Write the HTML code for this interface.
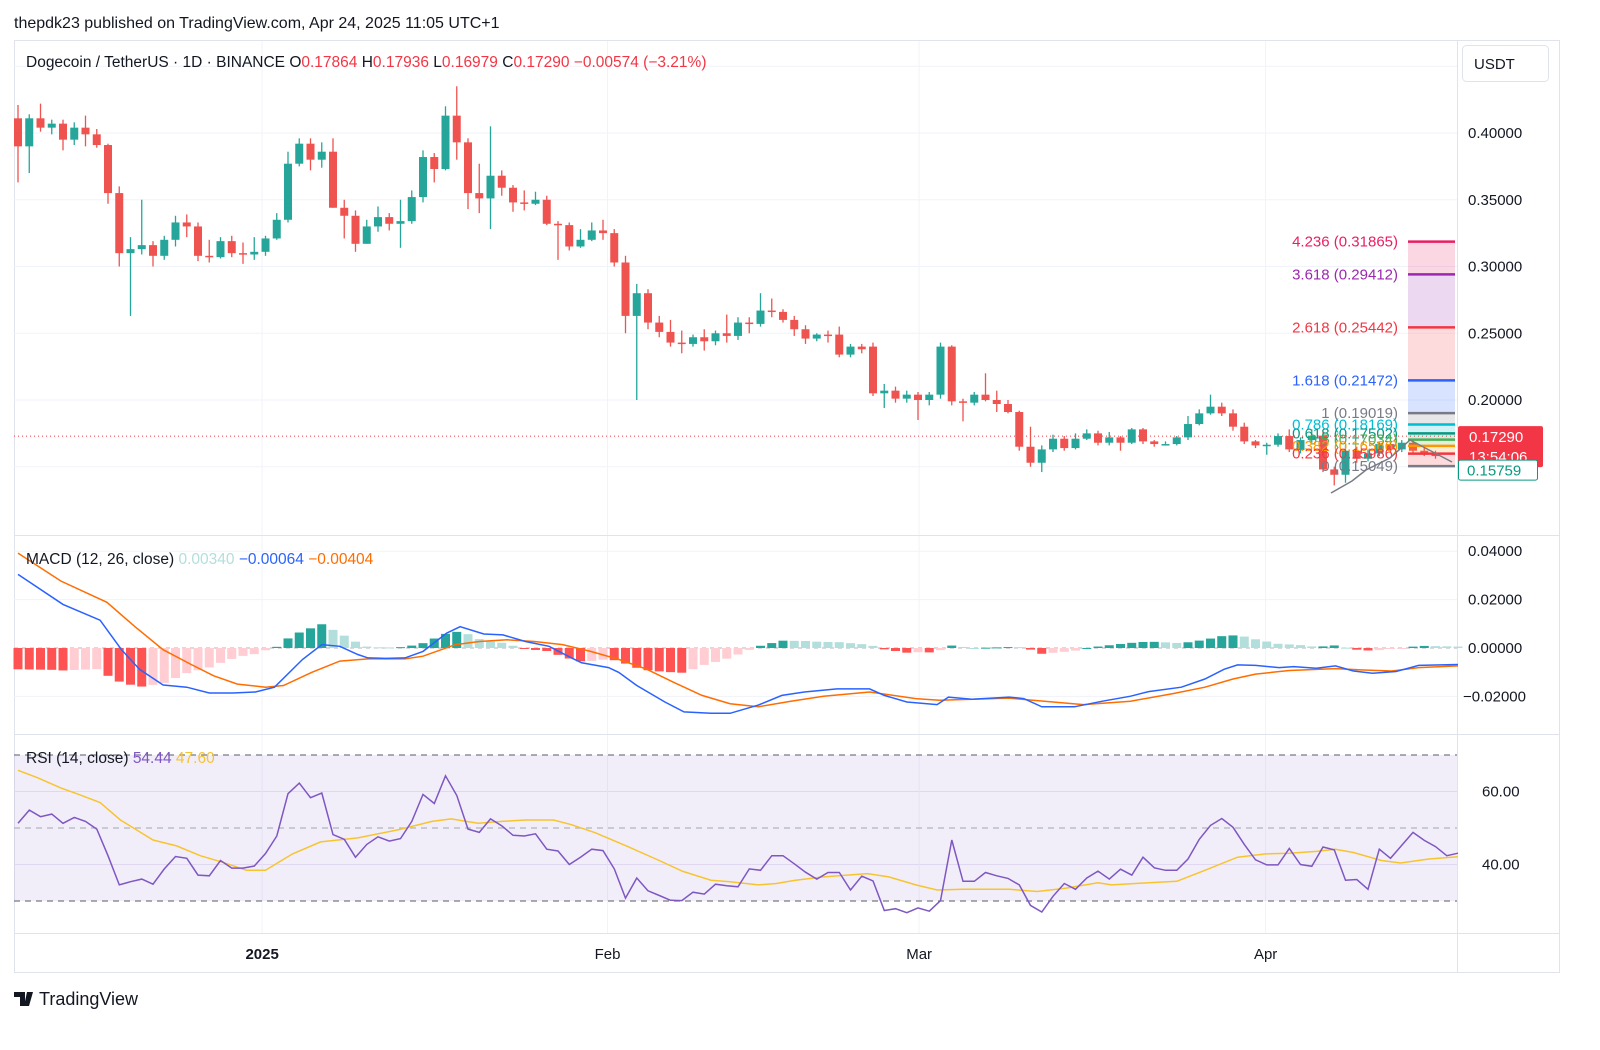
<!DOCTYPE html>
<html><head><meta charset="utf-8">
<style>
html,body{margin:0;padding:0;background:#fff;}
body{width:1600px;height:1045px;overflow:hidden;font-family:"Liberation Sans",sans-serif;}
svg text{font-family:"Liberation Sans",sans-serif;}
</style></head>
<body>
<svg id="chart" width="1600" height="1045" viewBox="0 0 1600 1045" xmlns="http://www.w3.org/2000/svg">
  <rect x="0" y="0" width="1600" height="1045" fill="#ffffff"/>
  <text x="14" y="28" font-size="16" fill="#131722">thepdk23 published on TradingView.com, Apr 24, 2025 11:05 UTC+1</text>
  <rect x="14.5" y="40.5" width="1545" height="932" fill="none" stroke="#e0e3eb"/>
  <g id="grid"></g>
  <rect x="14" y="755" width="1443" height="146" fill="#7e57c2" fill-opacity="0.1"/>
  <g id="panes"></g>
  <g id="candles"></g>
  <g id="fib"></g>
  <g id="macd"></g>
  <g id="rsi"></g>
  <g id="axes"></g>
  <text x="26" y="67" font-size="15.5" fill="#131722">Dogecoin / TetherUS · 1D · BINANCE <tspan fill="#131722">O</tspan><tspan fill="#f23645">0.17864</tspan>  <tspan fill="#131722">H</tspan><tspan fill="#f23645">0.17936</tspan>  <tspan fill="#131722">L</tspan><tspan fill="#f23645">0.16979</tspan>  <tspan fill="#131722">C</tspan><tspan fill="#f23645">0.17290  −0.00574 (−3.21%)</tspan></text>
  <text x="26" y="564" font-size="15.5" fill="#131722">MACD (12, 26, close) <tspan fill="#b2dfdb">0.00340</tspan>  <tspan fill="#2962ff">−0.00064</tspan>  <tspan fill="#ff6d00">−0.00404</tspan></text>
  <text x="26" y="763" font-size="15.5" fill="#131722">RSI (14, close) <tspan fill="#7e57c2">54.44</tspan> <tspan fill="#f7c430">47.60</tspan></text>
  <g>
    <rect x="1462.5" y="45.5" width="86" height="36" rx="4" fill="#fff" stroke="#e0e3eb"/>
    <text x="1474" y="69" font-size="15" fill="#131722">USDT</text>
  </g>
  <g>
    <path d="M14 992h11v14h-5v-9h-6z M27 992h6l-4 14h-5z" fill="#131722"/>
    <circle cx="29.5" cy="994.5" r="0" fill="#131722"/>
    <text x="39" y="1005" font-size="18" fill="#131722">TradingView</text>
  </g>
</svg>
<script>
// ---- DATA ----
const opens  = [.411,.390,.411,.404,.407,.395,.404,.399,.391,.355,.310,.313,.316,.308,.320,.333,.330,.308,.307,.319,.310,.309,.311,.321,.335,.377,.392,.380,.386,.344,.338,.317,.330,.337,.332,.334,.352,.382,.373,.413,.393,.355,.351,.368,.359,.348,.347,.350,.332,.331,.315,.320,.327,.325,.303,.263,.280,.258,.251,.243,.242,.247,.244,.250,.248,.258,.257,.267,.266,.260,.253,.246,.249,.249,.234,.240,.240,.205,.207,.201,.204,.200,.204,.240,.199,.198,.204,.200,.197,.191,.165,.153,.163,.171,.164,.171,.175,.168,.172,.168,.178,.169,.1665,.167,.172,.182,.190,.195,.190,.180,.169,.166,.1665,.173,.1625,.170,.1733,.148,.144,.162,.156,.160,.167,.163,.168,.162,.160];
const highs  = [.421,.414,.422,.410,.410,.408,.413,.403,.392,.360,.322,.350,.319,.323,.338,.339,.333,.320,.322,.323,.318,.322,.323,.340,.386,.396,.396,.393,.396,.350,.342,.335,.345,.340,.350,.357,.387,.385,.420,.435,.396,.377,.405,.372,.361,.357,.356,.353,.334,.333,.328,.333,.335,.328,.308,.287,.283,.263,.260,.252,.249,.253,.252,.264,.262,.262,.280,.276,.268,.263,.256,.250,.252,.255,.242,.242,.243,.212,.210,.207,.206,.206,.243,.241,.201,.206,.220,.207,.200,.192,.180,.166,.174,.173,.175,.178,.177,.176,.173,.179,.179,.170,.169,.173,.188,.193,.204,.198,.193,.183,.170,.168,.175,.178,.172,.178,.176,.150,.166,.165,.163,.169,.170,.170,.170,.164,.162];
const lows   = [.363,.370,.401,.399,.387,.391,.390,.389,.347,.300,.263,.309,.300,.305,.315,.322,.304,.303,.306,.307,.302,.305,.308,.320,.333,.375,.372,.374,.344,.321,.311,.317,.326,.327,.314,.332,.348,.363,.372,.380,.343,.340,.328,.353,.341,.342,.346,.331,.305,.312,.314,.319,.320,.300,.250,.200,.253,.247,.240,.235,.240,.237,.241,.243,.245,.250,.255,.262,.258,.248,.242,.244,.243,.232,.232,.235,.203,.194,.198,.198,.185,.196,.201,.196,.184,.196,.199,.191,.190,.162,.150,.146,.161,.162,.163,.170,.166,.166,.162,.167,.167,.165,.166,.166,.170,.181,.189,.188,.177,.167,.164,.159,.165,.161,.160,.168,.146,.136,.138,.153,.154,.158,.161,.161,.160,.158,.156];
const closes = [.390,.411,.404,.407,.395,.404,.399,.391,.355,.310,.313,.316,.308,.320,.333,.330,.308,.307,.319,.310,.309,.311,.321,.335,.377,.392,.380,.386,.344,.338,.317,.330,.337,.332,.334,.352,.382,.373,.413,.393,.355,.351,.368,.359,.348,.347,.350,.332,.331,.315,.320,.327,.325,.303,.263,.280,.258,.251,.243,.242,.247,.244,.250,.248,.258,.257,.267,.266,.260,.253,.246,.249,.248,.234,.240,.238,.205,.207,.201,.204,.200,.204,.240,.199,.198,.204,.200,.197,.191,.165,.153,.163,.171,.164,.171,.175,.168,.172,.168,.178,.169,.167,.167,.172,.182,.190,.195,.190,.180,.169,.166,.1665,.173,.163,.170,.1733,.148,.144,.162,.156,.160,.167,.163,.168,.162,.160,.158];

const priceTicks = [0.40,0.35,0.30,0.25,0.20];
const priceTickLabels = ["0.40000","0.35000","0.30000","0.25000","0.20000"];
const priceGrid = [0.45,0.40,0.35,0.30,0.25,0.20,0.15];
const macdTicks = [0.04,0.02,0,-0.02];
const macdTickLabels = ["0.04000","0.02000","0.00000","−0.02000"];
const rsiTicks = [60,40];
const rsiTickLabels = ["60.00","40.00"];
const rsiLevels = [70,50,30];
const timeTickDays = [22.7,53.4,81.1,111.9];
const timeTickLabels = ["2025","Feb","Mar","Apr"];

const macdDays = [1,5,8.3,10.2,11.8,13.9,16,18,20.1,22.1,23.8,26.3,28,29.6,31.2,32.1,33.7,35.4,37,39.1,40.3,42.4,44.1,46.1,48.2,50.2,51.1,53.5,54.4,56,58.5,60.2,62.6,64.3,66.8,68.9,70.9,73.8,76.7,78,80,82.7,83.7,85.8,89.1,90.4,92,94.9,97.4,99.9,101.5,104.4,106.5,108.2,109.4,111,113.1,114.4,116.4,118.1,119.7,121.4,123.5,125.5,129];
const macdVals = [0.0304,0.018,0.0115,-0.0007,-0.0088,-0.0153,-0.0162,-0.0186,-0.0186,-0.0182,-0.0162,-0.0047,0.0014,0.0007,-0.0027,-0.0041,-0.0043,-0.0041,-0.0014,0.0061,0.0088,0.0058,0.0054,0.0027,0.0007,-0.0041,-0.0061,-0.0081,-0.0101,-0.0155,-0.0223,-0.0264,-0.027,-0.027,-0.0236,-0.0196,-0.0182,-0.0169,-0.0169,-0.0196,-0.0223,-0.0234,-0.0203,-0.0212,-0.0203,-0.0209,-0.0243,-0.0243,-0.022,-0.0199,-0.018,-0.0162,-0.0128,-0.0088,-0.007,-0.0072,-0.0081,-0.0077,-0.0084,-0.0074,-0.0095,-0.0104,-0.0097,-0.0072,-0.0068];
const signalDays = [1,4.8,8.9,11.4,13.9,16.4,18.4,20.5,23,24.6,27.1,29.6,32.1,35.4,37,39.9,42,44.5,46.9,49.4,51.9,54.4,56.9,59.3,61.8,64.3,66.8,69.7,72.6,76.7,80.8,82.9,89.1,91.2,95.7,99.9,103.6,106.5,109,111,114,118.1,120.6,123.1,125.5,129];
const signalVals = [0.0392,0.0277,0.0189,0.0088,-0.0007,-0.0068,-0.0115,-0.0149,-0.0162,-0.0155,-0.0101,-0.0054,-0.0045,-0.0045,-0.0034,0.0014,0.0027,0.0034,0.0027,0.0014,-0.0014,-0.0047,-0.0088,-0.0142,-0.0196,-0.023,-0.0243,-0.022,-0.0199,-0.0182,-0.0209,-0.0216,-0.0207,-0.0216,-0.0234,-0.022,-0.0189,-0.0162,-0.0128,-0.0108,-0.0093,-0.0085,-0.0091,-0.0095,-0.0081,-0.0074];

const rsiVals = [51.3,54.9,53.1,53.8,51.3,52.9,51.8,49.7,42.4,34.4,35.3,36,34.6,38.8,42.2,41.7,37.1,36.9,41.1,39,39,39.6,43,47.8,59.4,62.3,58.3,59.6,48.2,46.9,42,45.5,47.6,46.4,47.1,51.8,59.2,56.7,64.3,58.9,49.7,48.8,52.5,50.6,48,47.8,48.4,44.2,43.7,40,42,44.2,43.8,38.8,30.8,36.3,32.8,31.5,30.2,30.1,32.4,31.9,34.6,34.2,33.9,38.8,38.4,42.4,42.4,40.2,37.9,36,37.8,37.8,33,36.8,35.5,27.4,27.9,26.8,28.1,27.2,30.1,46.7,35.4,35.4,37.8,36.9,36.2,34.4,28.8,27,31.3,34.8,33.2,36.3,38.2,36,38.7,37.1,42,39.1,38.4,38.4,41.5,46.9,50.7,52.6,50.2,45.5,41.3,39.9,39.9,44.4,40,39.5,44.8,44,35.7,35.9,33.2,44.2,41.7,45.3,48.8,46.6,44.9,42.4,43.1];
const rsiMaDays = [1,2.7,4.8,6.4,8.3,10.1,13,15.1,17.2,19.2,21.3,23,25.4,27.9,31.2,34.9,37.8,39.5,41.9,44,46.1,48.6,50.2,52.3,55.2,57.7,60.1,62.6,64.3,66.8,68.4,70.1,72.6,76.5,78.4,80.8,82.7,85,89.1,91.6,94.1,97,98.2,101.5,104,106.5,109.4,111.9,114,116.4,118.1,119.7,122.2,123.9,126.4,129];
const rsiMaVals = [65.8,63.8,61,59.2,57,52.2,46.7,45.1,42.4,40.6,38.4,38.4,42.9,46.2,47.3,49.6,51.8,52.5,51.3,51.8,52.2,52.2,50.9,48.7,44.9,41.5,38.1,35.7,35.3,34.4,34.8,35.7,36.6,37.5,36.6,34.4,33,33.2,33.2,32.6,33.5,35,34.4,35,35.4,38.4,42,42.9,43.1,43.6,44.2,43.3,41.1,40.4,41.5,42.1];

const fibRatios = ["4.236","3.618","2.618","1.618","1","0.786","0.618","0.5","0.382","0.236","0"];
const fibPrices = [0.31865,0.29412,0.25442,0.21472,0.19019,0.18169,0.17502,0.17034,0.16566,0.15986,0.15049];
const fibColors = ["#e91e63","#9c27b0","#f23645","#2962ff","#787b86","#00bcd4","#089981","#4caf50","#ff9800","#f23645","#787b86"];

const lastPrice = 0.17290;
const lastPriceLabel = "0.17290";
const countdownLabel = "13:54:06";
const prevPrice = 0.15759;
const prevPriceLabel = "0.15759";

// ---- SCALES ----
const NS = "http://www.w3.org/2000/svg";
const PLOT_R = 1457;
function xOf(d){ return 18 + 11.25*(d-1); }
function yP(p){ return 133 + (0.40-p)*1335; }
function yM(v){ return 648 - v*2420; }
function yR(r){ return 828 - (r-50)*3.65; }
function mk(tag, attrs, parent){
  const e = document.createElementNS(NS, tag);
  for (const k in attrs) e.setAttribute(k, attrs[k]);
  parent.appendChild(e); return e;
}
function interp(days, vals, d){
  if (d <= days[0]) return vals[0];
  for (let i=1;i<days.length;i++){
    if (d <= days[i]){ const t=(d-days[i-1])/(days[i]-days[i-1]); return vals[i-1]+t*(vals[i]-vals[i-1]); }
  }
  return vals[vals.length-1];
}
const grid = document.getElementById('grid');
const panes = document.getElementById('panes');
const axes = document.getElementById('axes');

// grid
priceGrid.forEach(p=>{
  const l = mk('line',{x1:14,x2:PLOT_R,y1:yP(p),y2:yP(p),stroke:'#f0f3fa','stroke-width':1},grid);
  
  
});
macdTicks.forEach(v=>{
  if (v===0) return;
  const l = mk('line',{x1:14,x2:PLOT_R,y1:yM(v),y2:yM(v),stroke:'#f0f3fa'},grid);
  
  
});
rsiTicks.forEach(v=>{
  const l = mk('line',{x1:14,x2:PLOT_R,y1:yR(v),y2:yR(v),stroke:'#ebe7f5'},grid);
  
  
});
timeTickDays.forEach((d,i)=>{
  const l = mk('line',{x1:xOf(d),x2:xOf(d),y1:41,y2:933,stroke:'#f0f3fa'},grid);
  
  
  const t = mk('text',{x:xOf(d),y:959,'text-anchor':'middle','font-size':15,fill:'#131722','font-weight':i===0?'bold':'normal'},axes);
  t.textContent = timeTickLabels[i];
  
  
});

// pane separators and axis border
[[535,'main-macd-separator'],[734,'macd-rsi-separator'],[933,'time-axis-separator']].forEach(s=>{
  const l = mk('line',{x1:14,x2:1560,y1:s[0]+0.5,y2:s[0]+0.5,stroke:'#e0e3eb'},panes);
  
  
});
const vb = mk('line',{x1:PLOT_R+0.5,x2:PLOT_R+0.5,y1:41,y2:972,stroke:'#e0e3eb'},panes);



// rsi dashed levels
rsiLevels.forEach(v=>{
  const l = mk('line',{x1:14,x2:PLOT_R,y1:yR(v),y2:yR(v),stroke:v===50?'#b2b5be':'#787b86','stroke-dasharray':'6,5','stroke-width':1.2},panes);
  
  
});
// macd zero line
const z = mk('line',{x1:14,x2:PLOT_R,y1:yM(0),y2:yM(0),stroke:'#b2b5be','stroke-dasharray':'4,4'},panes);



// axis labels
priceTicks.forEach((p,i)=>{
  const t = mk('text',{x:1468,y:yP(p)+5,'font-size':15,fill:'#131722'},axes);
  t.textContent = priceTickLabels[i];
  
  
});
macdTicks.forEach((v,i)=>{
  const t = mk('text',{x:v<0?1463:1468,y:yM(v)+5,'font-size':15,fill:'#131722'},axes);
  t.textContent = macdTickLabels[i];
  
  
});
rsiTicks.forEach((v,i)=>{
  const t = mk('text',{x:1482,y:yR(v)+5,'font-size':15,fill:'#131722'},axes);
  t.textContent = rsiTickLabels[i];
  
  
});

// current price line
const cpl = mk('line',{x1:14,x2:PLOT_R,y1:yP(lastPrice),y2:yP(lastPrice),stroke:'#f23645','stroke-dasharray':'1,3','stroke-width':1},panes);



// candles
const cg = document.getElementById('candles');
closes.forEach((c,i)=>{
  const o=opens[i], h=highs[i], lo=lows[i], x=xOf(i+1);
  const col = c>=o ? '#26a69a' : '#ef5350';
  const g = mk('g',{},cg);
  
  
  mk('line',{x1:x,x2:x,y1:yP(h),y2:yP(lo),stroke:col,'stroke-width':1.3},g);
  const top = yP(Math.max(o,c)), bot = yP(Math.min(o,c));
  mk('rect',{x:x-4,y:top,width:8,height:Math.max(1.5,bot-top),fill:col},g);
});

// fib extension
const fg = document.getElementById('fib');
for (let i=0;i<fibPrices.length-1;i++){
  const r = mk('rect',{x:1408,y:yP(fibPrices[i]),width:47,height:yP(fibPrices[i+1])-yP(fibPrices[i]),fill:fibColors[i],'fill-opacity':0.18},fg);
  
  
}
fibPrices.forEach((p,i)=>{
  const l = mk('line',{x1:1408,x2:1455,y1:yP(p),y2:yP(p),stroke:fibColors[i],'stroke-width':2.5},fg);
  
  
  const t = mk('text',{x:1398,y:yP(p)+5,'text-anchor':'end','font-size':15,fill:fibColors[i]},fg);
  t.textContent = fibRatios[i]+' ('+p.toFixed(5)+')';
  
  
});
const tl = mk('polyline',{points:'1331,493 1352,481 1366,470 1390,458 1410,440 1452,462',fill:'none',stroke:'#787b86','stroke-width':1.5},fg);



// price labels on axis
const lpg = mk('g',{},axes);


mk('rect',{x:1458,y:yP(lastPrice)-10,width:85,height:41,rx:2,fill:'#f23645'},lpg);
const lt1 = mk('text',{x:1469,y:yP(lastPrice)+6,'font-size':15,fill:'#fff'},lpg); lt1.textContent = lastPriceLabel;
const lt2 = mk('text',{x:1469,y:yP(lastPrice)+26,'font-size':15,fill:'#fff'},lpg); lt2.textContent = countdownLabel;
const ppg = mk('g',{},axes);


mk('rect',{x:1458.5,y:yP(prevPrice)+3.5,width:79,height:20,rx:2,fill:'#fff',stroke:'#089981'},ppg);
const pt = mk('text',{x:1467,y:yP(prevPrice)+19,'font-size':15,fill:'#089981'},ppg); pt.textContent = prevPriceLabel;

// MACD histogram + lines
const mg = document.getElementById('macd');
const nDays = 129;
let prevH = null;
for (let d=1; d<=nDays; d++){
  const h = interp(macdDays,macdVals,d) - interp(signalDays,signalVals,d);
  let col;
  if (h>=0) col = (prevH===null || h>=prevH) ? '#26a69a' : '#b2dfdb';
  else col = (prevH===null || h<prevH) ? '#ff5252' : '#ffcdd2';
  prevH = h;
  const y0 = yM(0), y1 = yM(h);
  const b = mk('rect',{x:xOf(d)-4.5,y:Math.min(y0,y1),width:9,height:Math.max(1,Math.abs(y1-y0)),fill:col},mg);
  
  
}
const sigPts = signalDays.map((d,i)=>xOf(d).toFixed(1)+','+yM(signalVals[i]).toFixed(1)).join(' ');
const sl = mk('polyline',{points:sigPts,fill:'none',stroke:'#ff6d00','stroke-width':1.5},mg);


const macdPts = macdDays.map((d,i)=>xOf(d).toFixed(1)+','+yM(macdVals[i]).toFixed(1)).join(' ');
const ml = mk('polyline',{points:macdPts,fill:'none',stroke:'#2962ff','stroke-width':1.5},mg);



// RSI
const rg = document.getElementById('rsi');
const maPts = rsiMaDays.map((d,i)=>xOf(d).toFixed(1)+','+yR(rsiMaVals[i]).toFixed(1)).join(' ');
const mal = mk('polyline',{points:maPts,fill:'none',stroke:'#f7c430','stroke-width':1.5},rg);


const rPts = rsiVals.map((v,i)=>xOf(i+1).toFixed(1)+','+yR(v).toFixed(1)).join(' ');
const rl = mk('polyline',{points:rPts,fill:'none',stroke:'#7e57c2','stroke-width':1.5},rg);


</script>
</body></html>
